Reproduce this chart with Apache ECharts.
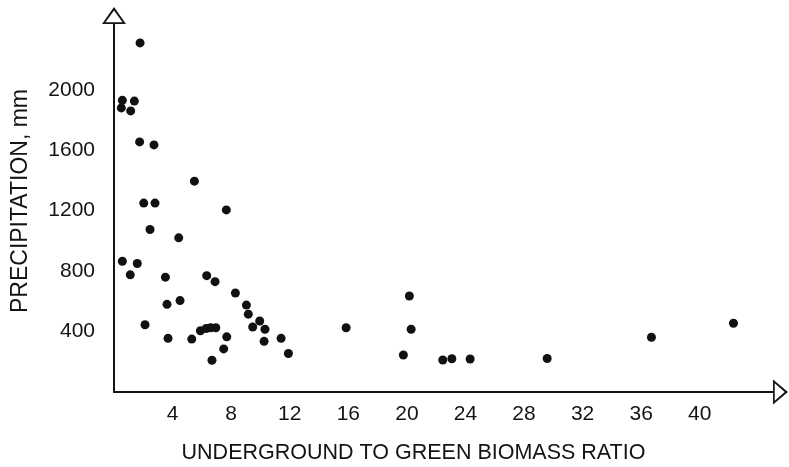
<!DOCTYPE html>
<html lang="en">
<head>
    <meta charset="UTF-8">
    <title>Precipitation vs underground to green biomass ratio</title>
    <script src="https://cdn.jsdelivr.net/npm/echarts@6/dist/echarts.min.js"></script>
    <style>
        html, body { margin: 0; padding: 0; background: #fff; }
        #chart { width: 789px; height: 467px; }
    </style>
</head>
<body>
    <div id="chart"></div>

    <script>
        // ratio (x) and precipitation in mm (y)
        var ratio = [
            1.78, 0.57, 1.39, 0.5, 1.14, 1.75, 2.73, 5.49, 2.03, 2.8, 7.67, 2.46, 4.42,
            0.57, 1.59, 1.11, 3.51, 6.33, 6.9, 8.29, 3.62, 4.51, 9.04, 9.17, 2.12,
            9.95, 9.47, 10.31, 5.9, 6.3, 6.6, 6.95, 3.69, 5.31, 7.7, 10.25, 11.41,
            7.49, 11.91, 6.69,
            15.85, 20.17, 20.29, 19.76, 22.45, 23.07, 24.32, 29.58, 36.7, 42.3
        ];
        var precipitation = [
            2310, 1930, 1925, 1880, 1860, 1655, 1635, 1395, 1250, 1250, 1205, 1075, 1020,
            865, 850, 775, 760, 770, 730, 655, 580, 605, 575, 515, 445,
            470, 430, 415, 405, 420, 425, 425, 355, 350, 365, 335, 355,
            285, 255, 210,
            425, 635, 415, 245, 212, 220, 218, 222, 362, 455
        ];

        var xTicks = [4, 8, 12, 16, 20, 24, 28, 32, 36, 40];
        var yTicks = [400, 800, 1200, 1600, 2000];

        var font = '"Liberation Sans", Arial, Helvetica, sans-serif';
        var ink = '#141414';

        // open triangle arrow heads (outer outline with a hole cut out)
        var arrowY = 'path://M12 0L24 17L0 17Z M12 3.5L3.5 15.3L20.5 15.3Z';
        var arrowX = 'path://M12.5 0L25 15L0 15Z M12.5 3.3L3.8 13.3L21.2 13.3Z';

        var points = [];
        for (var i = 0; i < ratio.length; i++) {
            points.push([ratio[i], precipitation[i]]);
        }

        var chart = echarts.init(document.getElementById('chart'), null, { renderer: 'canvas' });

        var option = {
            backgroundColor: '#fff',
            animation: false,
            grid: {
                left: 114,
                right: 16,
                top: 24,
                bottom: 75,
                containLabel: false,
                outerBoundsMode: 'none'
            },
            xAxis: {
                type: 'value',
                min: 0,
                max: 45,
                interval: 4,
                splitLine: { show: false },
                axisTick: { show: false },
                axisLine: {
                    lineStyle: { color: ink, width: 2 },
                    symbol: ['none', arrowX],
                    symbolSize: [25, 15],
                    symbolOffset: [0, 7.5]
                },
                axisLabel: {
                    margin: 12,
                    fontFamily: font,
                    fontSize: 21,
                    color: ink,
                    formatter: function(v) {
                        return xTicks.indexOf(v) >= 0 ? String(v) : '';
                    }
                },
                name: 'UNDERGROUND TO GREEN BIOMASS RATIO',
                nameLocation: 'middle',
                nameGap: 50,
                nameTextStyle: {
                    fontFamily: font,
                    fontSize: 21.5,
                    color: ink,
                    padding: [0, 60, 0, 0]
                }
            },
            yAxis: {
                type: 'value',
                min: 0,
                max: 2435,
                interval: 400,
                splitLine: { show: false },
                axisTick: { show: false },
                axisLine: {
                    lineStyle: { color: ink, width: 2 },
                    symbol: ['none', arrowY],
                    symbolSize: [24, 17],
                    symbolOffset: [0, 8.5]
                },
                axisLabel: {
                    margin: 19,
                    fontFamily: font,
                    fontSize: 21,
                    color: ink,
                    formatter: function(v) {
                        return yTicks.indexOf(v) >= 0 ? String(v) : '';
                    }
                },
                name: 'PRECIPITATION, mm',
                nameLocation: 'middle',
                nameGap: 82,
                nameTextStyle: {
                    fontFamily: font,
                    fontSize: 23,
                    color: ink,
                    padding: [0, 0, 0, 14]
                }
            },
            series: [{
                type: 'scatter',
                data: points,
                symbol: 'circle',
                symbolSize: 9,
                itemStyle: { color: '#111', opacity: 1 }
            }]
        };

        chart.setOption(option);
    </script>
</body>
</html>
